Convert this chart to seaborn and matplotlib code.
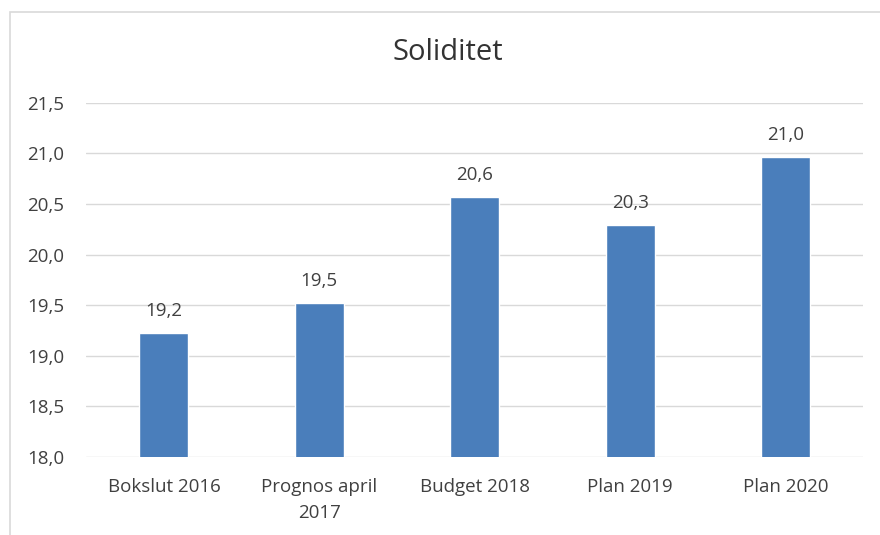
import matplotlib
matplotlib.use('Agg')
import matplotlib.pyplot as plt
import seaborn as sns
import pandas as pd
from matplotlib.patches import Rectangle
from matplotlib.ticker import FuncFormatter

# data
categories = ['Bokslut 2016', 'Prognos april\n2017', 'Budget 2018', 'Plan 2019', 'Plan 2020']
values = [19.22, 19.52, 20.57, 20.29, 20.96]
labels = ['19,2', '19,5', '20,6', '20,3', '21,0']

df = pd.DataFrame({'kategori': categories, 'soliditet': values})

sns.set_style('white')
plt.rcParams['font.family'] = ['Open Sans', 'DejaVu Sans']

fig = plt.figure(figsize=(8.8, 5.35), dpi=100)
ax = fig.add_axes([0.098, 0.146, 0.883, 0.662])

# ram runt diagrammet
fig.patches.append(Rectangle((0.0115, -0.1), 1.2, 1.078, transform=fig.transFigure,
                             fill=False, edgecolor='#d9d9d9', linewidth=1.2))

sns.barplot(data=df, x='kategori', y='soliditet', color='#4a7ebb', width=0.315,
            saturation=1, ax=ax)

ax.set_ylim(18.0, 21.5)
ax.set_yticks([18.0, 18.5, 19.0, 19.5, 20.0, 20.5, 21.0, 21.5])
ax.yaxis.set_major_formatter(FuncFormatter(lambda v, p: f'{v:.1f}'.replace('.', ',')))
ax.grid(axis='y', color='#d9d9d9', linewidth=1)
ax.set_axisbelow(True)
for s in ax.spines.values():
    s.set_visible(False)
ax.tick_params(axis='both', length=0, labelsize=13.5, colors='#404040')
ax.tick_params(axis='y', pad=16)
ax.tick_params(axis='x', pad=15)
for t in ax.get_xticklabels():
    t.set_linespacing(1.6)
ax.set_xlabel('')
ax.set_ylabel('')

for i, (v, t) in enumerate(zip(values, labels)):
    ax.text(i, v + 0.13, t, ha='center', va='bottom', fontsize=13.5, color='#404040')

fig.text(0.509, 0.902, 'Soliditet', ha='center', va='center', fontsize=21, color='#333333')

fig.savefig('out.png', dpi=100)
